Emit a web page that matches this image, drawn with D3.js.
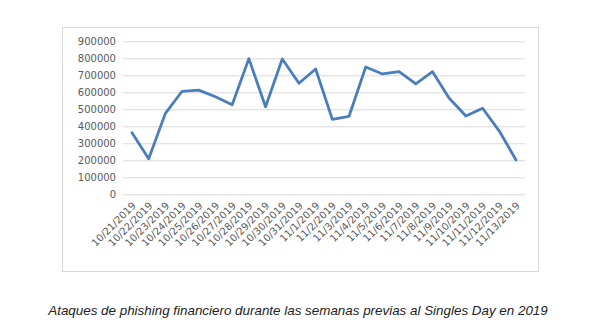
<!DOCTYPE html>
<html><head><meta charset="utf-8">
<script src="https://cdn.jsdelivr.net/npm/d3@7/dist/d3.min.js"></script>
<style>body{margin:0;background:#fff}</style>
</head><body>
<svg id="c" width="601" height="335"></svg>
<script>
const categories = ["10/21/2019","10/22/2019","10/23/2019","10/24/2019","10/25/2019","10/26/2019","10/27/2019","10/28/2019","10/29/2019","10/30/2019","10/31/2019","11/1/2019","11/2/2019","11/3/2019","11/4/2019","11/5/2019","11/6/2019","11/7/2019","11/8/2019","11/9/2019","11/10/2019","11/11/2019","11/12/2019","11/13/2019"];
const values = [362000,209000,476000,606000,613000,574000,527000,798000,515000,796000,653000,737000,441000,459000,749000,708000,721000,649000,721000,565000,461000,506000,372000,202000];
const yTicks = [0,100000,200000,300000,400000,500000,600000,700000,800000,900000];
const caption = "Ataques de phishing financiero durante las semanas previas al Singles Day en 2019";

const svg = d3.select("#c");
svg.append("rect").attr("x",62.5).attr("y",27.5).attr("width",476).attr("height",244)
  .attr("fill","#fff").attr("stroke","#d9d9d9").attr("stroke-width",1);

const x = d3.scalePoint().domain(categories).range([132,516]);
const y = d3.scaleLinear().domain([0,900000]).range([194.3,41.3]);

const gy = svg.append("g").attr("transform","translate(123,0)")
  .call(d3.axisLeft(y).tickValues(yTicks).tickSize(-402).tickFormat(d3.format("d")).tickPadding(8));
gy.select(".domain").remove();
gy.selectAll(".tick line").attr("stroke","#d9d9d9").attr("stroke-width",1);
gy.selectAll(".tick text").attr("fill","#595959").attr("font-family","DejaVu Sans").attr("font-size",10)
  .attr("text-anchor","end").attr("x",-7);

const gx = svg.append("g").attr("transform","translate(0,194.3)")
  .call(d3.axisBottom(x).tickSize(0));
gx.select(".domain").remove();
gx.selectAll(".tick text").attr("fill","#595959").attr("font-family","DejaVu Sans").attr("font-size",10)
  .attr("text-anchor","end").attr("dy",0).attr("y",0)
  .attr("transform","translate(4,12) rotate(-45)");

const line = d3.line().x((d,i)=>x(categories[i])).y(d=>y(d));
svg.append("path").datum(values).attr("d",line).attr("fill","none")
  .attr("stroke","#4a7ebb").attr("stroke-width",2.8).attr("stroke-linejoin","round").attr("stroke-linecap","round");

svg.append("text").attr("x",298).attr("y",315).attr("text-anchor","middle")
  .attr("font-family","Liberation Sans").attr("font-style","italic").attr("font-size",13.4)
  .attr("fill","#222").text(caption);
</script>
</body></html>
